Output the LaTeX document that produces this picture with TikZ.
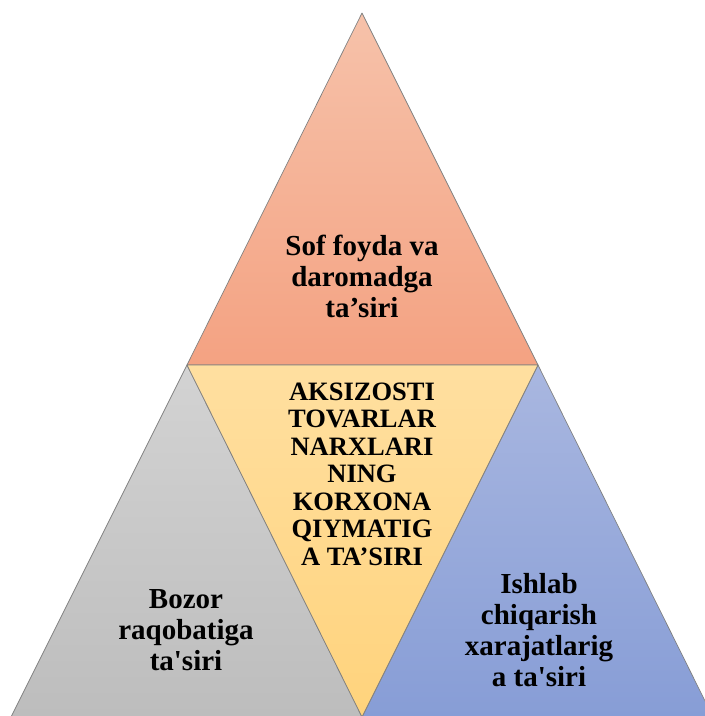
\documentclass[tikz,border=0pt]{standalone}
\usepackage{fontspec}
\setmainfont{Liberation Serif}
\newfontfamily\quotefont{Liberation Serif}[Ligatures=TeXOff]

\definecolor{sofTop}{HTML}{F6C2AA}
\definecolor{sofBot}{HTML}{F4A282}
\definecolor{aksTop}{HTML}{FFDFA0}
\definecolor{aksBot}{HTML}{FFD37C}
\definecolor{bozTop}{HTML}{D3D3D3}
\definecolor{bozBot}{HTML}{BDBDBD}
\definecolor{ishTop}{HTML}{A9B7E0}
\definecolor{ishBot}{HTML}{879DD6}

\newcommand{\sq}{{\quotefont\bfseries'}}

\begin{document}
\begin{tikzpicture}[x=1pt, y=-1pt,
        tri/.style={draw=black!50, line width=0.7pt, line join=round},
        every node/.style={align=center, inner sep=0pt,
          font=\rmfamily\bfseries\fontsize{29}{31}\selectfont}]

        \useasboundingbox (0,0) rectangle (705,716);

        \coordinate (apex) at (362,13);
        \coordinate (midL) at (187,365);
        \coordinate (midR) at (538,365);
        \coordinate (botL) at (11,717);
        \coordinate (botM) at (362,717);
        \coordinate (botR) at (713,717);

        % four triangles
        \path[tri, top color=sofTop, bottom color=sofBot] (apex) -- (midL) -- (midR) -- cycle;
        \path[tri, top color=bozTop, bottom color=bozBot] (midL) -- (botL) -- (botM) -- cycle;
        \path[tri, top color=ishTop, bottom color=ishBot] (midR) -- (botM) -- (botR) -- cycle;
        \path[tri, top color=aksTop, bottom color=aksBot] (midL) -- (midR) -- (botM) -- cycle;

        \node (sof) at (362,276) {Sof foyda va\\daromadga\\ta’siri};
        \node[font=\rmfamily\bfseries\fontsize{26.5}{27.5}\selectfont] (aksiz) at (362,474)
          {AKSIZOSTI\\TOVARLAR\\NARXLARI\\NING\\KORXONA\\QIYMATIG\\A TA’SIRI};
        \node (bozor) at (186,630) {Bozor\\raqobatiga\\ta\sq siri};
        \node (ishlab) at (539,630) {Ishlab\\chiqarish\\xarajatlarig\\a ta\sq siri};
\end{tikzpicture}
\end{document}
